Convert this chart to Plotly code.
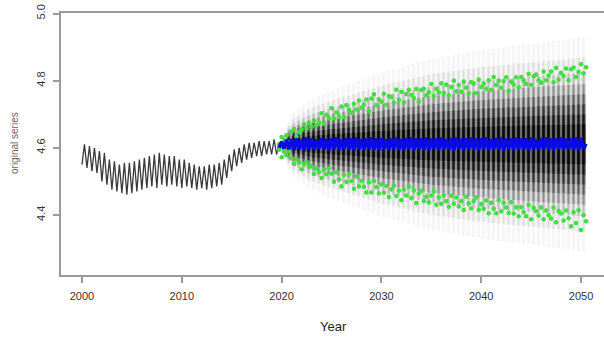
import plotly.graph_objects as go

# ---------------- data ----------------
hist_start, hist_step = 2000.0, 0.25
hist_values = [
    4.55, 4.61, 4.54, 4.605,
    4.53, 4.60, 4.525, 4.59,
    4.50, 4.585, 4.49, 4.565,
    4.475, 4.56, 4.47, 4.55,
    4.465, 4.555, 4.46, 4.555,
    4.465, 4.56, 4.47, 4.565,
    4.475, 4.57, 4.48, 4.575,
    4.485, 4.58, 4.48, 4.585,
    4.49, 4.58, 4.485, 4.575,
    4.49, 4.575, 4.485, 4.565,
    4.48, 4.565, 4.485, 4.555,
    4.48, 4.55, 4.475, 4.545,
    4.48, 4.545, 4.475, 4.55,
    4.48, 4.55, 4.485, 4.555,
    4.49, 4.565, 4.51, 4.58,
    4.53, 4.595, 4.545, 4.60,
    4.555, 4.61, 4.565, 4.615,
    4.57, 4.615, 4.575, 4.62,
    4.575, 4.62, 4.58, 4.62,
    4.58, 4.625, 4.58, 4.615,
]

fc_start, fc_step = 2019.75, 0.25
fc_mean = [
    4.600,
    4.618, 4.598, 4.624, 4.596,
    4.626, 4.594, 4.628, 4.597,
    4.624, 4.592, 4.630, 4.595,
    4.627, 4.593, 4.625, 4.598,
    4.629, 4.594, 4.626, 4.592,
    4.628, 4.596, 4.631, 4.593,
    4.625, 4.597, 4.629, 4.594,
    4.627, 4.592, 4.630, 4.596,
    4.626, 4.593, 4.628, 4.595,
    4.631, 4.594, 4.627, 4.592,
    4.629, 4.596, 4.626, 4.593,
    4.628, 4.595, 4.630, 4.594,
    4.626, 4.592, 4.629, 4.597,
    4.631, 4.593, 4.627, 4.595,
    4.628, 4.594, 4.630, 4.592,
    4.627, 4.596, 4.628, 4.593,
    4.630, 4.595, 4.626, 4.594,
    4.629, 4.592, 4.631, 4.596,
    4.627, 4.593, 4.628, 4.595,
    4.630, 4.594, 4.627, 4.592,
    4.628, 4.596, 4.631, 4.593,
    4.626, 4.595, 4.629, 4.594,
    4.631, 4.592, 4.627, 4.597,
    4.628, 4.593, 4.630, 4.595,
    4.627, 4.594, 4.628, 4.592,
    4.630, 4.596, 4.626, 4.593,
    4.629, 4.595, 4.631, 4.594,
    4.627, 4.592, 4.628, 4.596,
    4.630, 4.593, 4.627, 4.595,
    4.628, 4.594, 4.630, 4.592,
    4.629, 4.596, 4.612,
]

fc_upper = [
    4.610,
    4.632, 4.620, 4.637, 4.616,
    4.648, 4.656, 4.633, 4.646,
    4.654, 4.669, 4.657, 4.673,
    4.662, 4.681, 4.667, 4.675,
    4.703, 4.672, 4.698, 4.687,
    4.718, 4.687, 4.705, 4.692,
    4.723, 4.691, 4.727, 4.713,
    4.704, 4.731, 4.714, 4.741,
    4.719, 4.728, 4.744, 4.709,
    4.747, 4.759, 4.727, 4.744,
    4.737, 4.761, 4.728, 4.754,
    4.751, 4.735, 4.773, 4.743,
    4.767, 4.735, 4.760, 4.773,
    4.757, 4.748, 4.775, 4.737,
    4.773, 4.776, 4.756, 4.765,
    4.790, 4.754, 4.776, 4.765,
    4.792, 4.763, 4.788, 4.756,
    4.781, 4.800, 4.768, 4.787,
    4.767, 4.797, 4.779, 4.763,
    4.796, 4.791, 4.763, 4.803,
    4.781, 4.791, 4.776, 4.801,
    4.773, 4.811, 4.787, 4.800,
    4.779, 4.798, 4.810, 4.770,
    4.797, 4.788, 4.810, 4.780,
    4.811, 4.800, 4.790, 4.820,
    4.787, 4.813, 4.818, 4.801,
    4.794, 4.827, 4.801, 4.815,
    4.827, 4.795, 4.838, 4.803,
    4.823, 4.814, 4.836, 4.801,
    4.834, 4.839, 4.811, 4.826,
    4.849, 4.822, 4.840,
]

fc_lower = [
    4.594,
    4.572, 4.590, 4.578, 4.589,
    4.569, 4.552, 4.565, 4.556,
    4.536, 4.552, 4.557, 4.543,
    4.545, 4.522, 4.538, 4.527,
    4.510, 4.536, 4.521, 4.539,
    4.523, 4.499, 4.527, 4.506,
    4.485, 4.519, 4.499, 4.522,
    4.501, 4.478, 4.515, 4.485,
    4.501, 4.484, 4.467, 4.497,
    4.467, 4.501, 4.483, 4.464,
    4.491, 4.466, 4.486, 4.453,
    4.476, 4.487, 4.456, 4.472,
    4.444, 4.475, 4.458, 4.484,
    4.450, 4.473, 4.435, 4.464,
    4.472, 4.441, 4.454, 4.437,
    4.458, 4.470, 4.430, 4.452,
    4.433, 4.458, 4.441, 4.424,
    4.457, 4.433, 4.452, 4.425,
    4.441, 4.415, 4.454, 4.434,
    4.419, 4.441, 4.452, 4.415,
    4.432, 4.418, 4.443, 4.405,
    4.436, 4.418, 4.405, 4.444,
    4.411, 4.436, 4.422, 4.406,
    4.438, 4.404, 4.423, 4.396,
    4.423, 4.408, 4.396, 4.430,
    4.387, 4.421, 4.411, 4.398,
    4.422, 4.387, 4.413, 4.399,
    4.389, 4.422, 4.378, 4.412,
    4.404, 4.383, 4.413, 4.390,
    4.366, 4.408, 4.376, 4.414,
    4.355, 4.399, 4.381,
]

# fan chart quantile bands (half-widths around the centre, at node years)
fan_years = [2019.75, 2021, 2023, 2025, 2030, 2035, 2040, 2045, 2050.5]
fan_center = [4.605, 4.61, 4.61, 4.61, 4.61, 4.61, 4.61, 4.61, 4.61]
fan_hw_1 = [0.010, 0.090, 0.135, 0.160, 0.215, 0.255, 0.280, 0.300, 0.320]
fan_hw_2 = [0.008, 0.073, 0.110, 0.130, 0.175, 0.210, 0.230, 0.245, 0.260]
fan_hw_3 = [0.007, 0.060, 0.090, 0.108, 0.144, 0.172, 0.190, 0.202, 0.215]
fan_hw_4 = [0.006, 0.050, 0.076, 0.090, 0.120, 0.144, 0.158, 0.170, 0.180]
fan_hw_5 = [0.005, 0.042, 0.063, 0.075, 0.100, 0.120, 0.132, 0.141, 0.150]
fan_hw_6 = [0.004, 0.034, 0.050, 0.060, 0.080, 0.096, 0.106, 0.113, 0.120]
fan_hw_7 = [0.003, 0.025, 0.038, 0.045, 0.060, 0.072, 0.079, 0.085, 0.090]
fan_hw_8 = [0.002, 0.017, 0.025, 0.030, 0.040, 0.048, 0.053, 0.056, 0.060]

x_ticks = [2000, 2010, 2020, 2030, 2040, 2050]
y_ticks = [4.4, 4.6, 4.8, 5.0]

# ---------------- figure ----------------
hist_x = [hist_start + i * hist_step for i in range(len(hist_values))]
fc_x = [fc_start + i * fc_step for i in range(len(fc_mean))]

fig = go.Figure()

fan_levels = [fan_hw_1, fan_hw_2, fan_hw_3, fan_hw_4, fan_hw_5, fan_hw_6, fan_hw_7, fan_hw_8]
fan_alpha = [0.02, 0.04, 0.07, 0.11, 0.16, 0.22, 0.30, 0.40]
for hw, a in zip(fan_levels, fan_alpha):
    up = [c + h for c, h in zip(fan_center, hw)]
    lo = [c - h for c, h in zip(fan_center, hw)]
    bg = f"rgba(0,0,0,{a * 0.6:.3f})"
    fig.add_trace(go.Scatter(
        x=fan_years + fan_years[::-1],
        y=up + lo[::-1],
        fill="toself",
        mode="lines",
        line=dict(width=0),
        fillcolor=bg,
        fillpattern=dict(shape="|", size=5, solidity=0.45,
                         fgcolor=f"rgba(0,0,0,{min(1, a * 1.6):.3f})",
                         bgcolor=bg, fgopacity=1),
        hoverinfo="skip",
        showlegend=False,
    ))

fig.add_trace(go.Scatter(x=hist_x, y=hist_values, mode="lines",
                         line=dict(color="#3a3a3a", width=1.3),
                         showlegend=False))

for ser in (fc_upper, fc_lower):
    fig.add_trace(go.Scatter(x=fc_x, y=ser, mode="markers",
                             marker=dict(color="#44dd44", size=4.6, line=dict(width=0)),
                             showlegend=False))

fig.add_trace(go.Scatter(x=fc_x, y=fc_mean, mode="lines",
                         line=dict(color="#0a0ae6", width=3.5),
                         showlegend=False))

axis_color = "#9a9a9a"
tick_font = dict(family="Liberation Sans, Arial, sans-serif", size=11, color="#333333")

fig.update_layout(
    width=604, height=344,
    margin=dict(l=61, r=0, t=13, b=69),
    paper_bgcolor="white", plot_bgcolor="white",
    xaxis=dict(range=[1997.9, 2052.3], tickvals=x_ticks, ticktext=[str(v) for v in x_ticks],
               showgrid=False, zeroline=False, showline=True, mirror=True,
               linecolor=axis_color, linewidth=2, ticks="outside", ticklen=6,
               tickcolor=axis_color, tickwidth=1.5, tickfont=tick_font,
               ticklabelstandoff=4),
    yaxis=dict(range=[4.221, 5.0015], tickvals=y_ticks, tickformat=".1f",
               showgrid=False, zeroline=False, showline=True, mirror=False,
               linecolor=axis_color, linewidth=2, ticks="outside", ticklen=6,
               tickcolor=axis_color, tickwidth=1.5, tickfont=tick_font,
               tickangle=-90, ticklabelstandoff=4),
    annotations=[
        dict(text="original series", xref="paper", yref="paper",
             x=(14 - 61) / 543, y=(275 - 143) / 262, xanchor="center", yanchor="middle",
             textangle=-90, showarrow=False,
             font=dict(family="Liberation Sans, Arial, sans-serif", size=10, color="#666666")),
        dict(text="Year", xref="paper", yref="paper",
             x=(333 - 61) / 543, y=(275 - 326) / 262, xanchor="center", yanchor="middle",
             showarrow=False,
             font=dict(family="Liberation Sans, Arial, sans-serif", size=13, color="#222222")),
    ],
)

fig.write_html("out.html")
